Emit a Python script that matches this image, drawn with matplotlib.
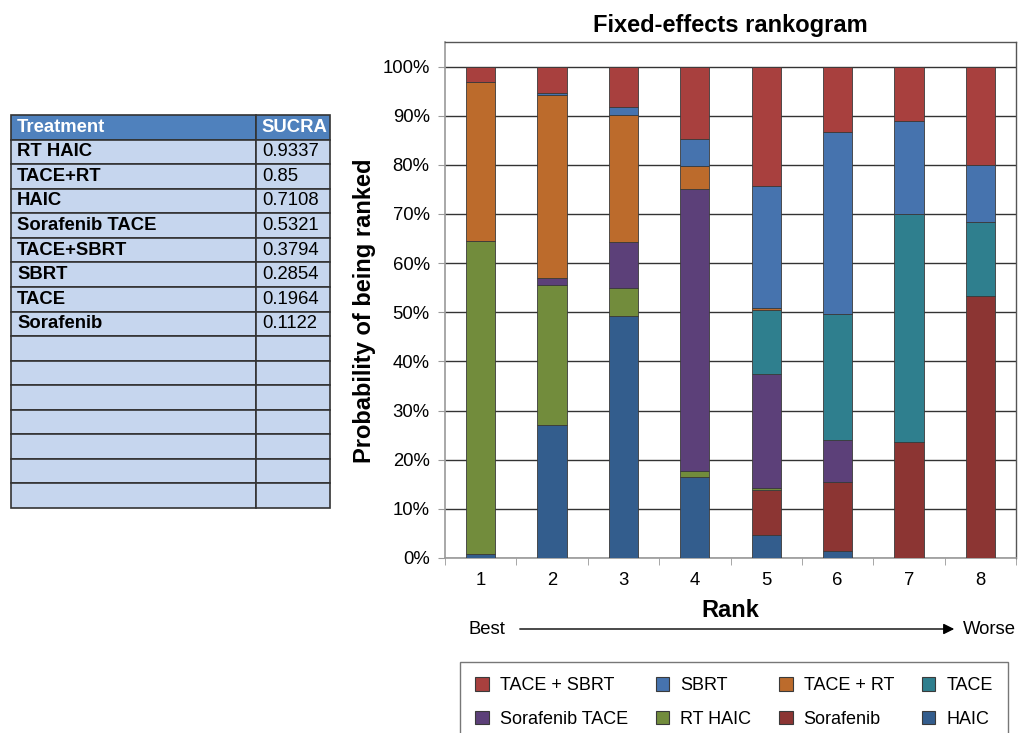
import matplotlib
matplotlib.use('Agg')
import matplotlib.pyplot as plt
from matplotlib.patches import Patch
import numpy as np

plt.rcParams['font.family'] = ['Liberation Sans', 'DejaVu Sans']

# SUCRA table
treatments = ['RT HAIC', 'TACE+RT', 'HAIC', 'Sorafenib TACE', 'TACE+SBRT',
              'SBRT', 'TACE', 'Sorafenib']
sucra = ['0.9337', '0.85', '0.7108', '0.5321', '0.3794', '0.2854',
         '0.1964', '0.1122']
n_empty = 7

# rank probabilities (%) for ranks 1..8, stacked bottom to top
ranks = [1, 2, 3, 4, 5, 6, 7, 8]
haic = [0.9, 27.0, 49.2, 16.5, 4.7, 1.5, 0, 0]
sorafenib = [0, 0, 0, 0, 9.1, 13.9, 23.6, 53.3]
rt_haic = [63.7, 28.5, 5.7, 1.2, 0.4, 0, 0, 0]
sorafenib_tace = [0, 1.5, 9.5, 57.3, 23.2, 8.6, 0, 0]
tace = [0, 0, 0, 0, 13.0, 25.7, 46.3, 15.1]
tace_rt = [32.3, 37.2, 25.8, 4.7, 0.5, 0, 0, 0]
sbrt = [0, 0.5, 1.5, 5.6, 24.7, 37.0, 19.1, 11.5]
tace_sbrt = [3.1, 5.3, 8.3, 14.7, 24.4, 13.3, 11.0, 20.1]

series = [
    ('HAIC', haic, '#335d8d'),
    ('Sorafenib', sorafenib, '#8c3533'),
    ('RT HAIC', rt_haic, '#728c3c'),
    ('Sorafenib TACE', sorafenib_tace, '#5c4079'),
    ('TACE', tace, '#2f7f8e'),
    ('TACE + RT', tace_rt, '#bc6b2c'),
    ('SBRT', sbrt, '#4673ae'),
    ('TACE + SBRT', tace_sbrt, '#a8403e'),
]

fig = plt.figure(figsize=(10.18, 7.33), dpi=100)

# rankogram
ax = fig.add_axes([445 / 1018, 1 - 558 / 733, 571 / 1018, 516 / 733])
bottom = np.zeros(len(ranks))
for name, vals, col in series:
    ax.bar(ranks, vals, width=0.41, bottom=bottom, color=col,
           edgecolor='#3a3a3a', linewidth=0.6, zorder=3, label=name)
    bottom += np.array(vals)

ax.set_xlim(0.5, 8.5)
ax.set_ylim(0, 105)
ax.set_yticks(np.arange(0, 101, 10))
ax.set_yticklabels([f'{v}%' for v in range(0, 101, 10)], fontsize=13.3)
ax.set_xticks(ranks)
ax.set_xticklabels([str(r) for r in ranks], fontsize=13.3)
ax.set_xticks(np.arange(0.5, 9, 1), minor=True)
ax.tick_params(axis='x', which='major', length=0, pad=10)
ax.tick_params(axis='x', which='minor', length=5, color='#999999')
ax.tick_params(axis='y', length=5, color='#999999', pad=6)
ax.grid(axis='y', color='#333333', linewidth=1.0, zorder=0)
ax.set_axisbelow(True)
for s in ['left', 'bottom']:
    ax.spines[s].set_color('#999999')
    ax.spines[s].set_linewidth(1.2)
for s in ['top', 'right']:
    ax.spines[s].set_color('#555555')
    ax.spines[s].set_linewidth(1.0)

ax.set_title('Fixed-effects rankogram', fontsize=17, fontweight='bold', pad=7)
ax.set_ylabel('Probability of being ranked', fontsize=17, fontweight='bold')
ax.yaxis.set_label_coords(-0.121, 0.48)
ax.set_xlabel('Rank', fontsize=17, fontweight='bold', labelpad=7)

# Best -> Worse arrow
yb = 1 - 629 / 733
fig.text(468 / 1018, yb, 'Best', fontsize=13.3, ha='left', va='center')
fig.text(963 / 1018, yb, 'Worse', fontsize=13.3, ha='left', va='center')
ax.annotate('', xy=(957 / 1018, yb), xytext=(517 / 1018, yb),
            xycoords='figure fraction', textcoords='figure fraction',
            arrowprops=dict(arrowstyle='-|>', color='black', lw=1.0,
                            mutation_scale=16))

# legend, row-major order like the original
handles = {name: Patch(facecolor=col, edgecolor='#3a3a3a', linewidth=0.8)
           for name, vals, col in series}
order = ['TACE + SBRT', 'Sorafenib TACE', 'SBRT', 'RT HAIC',
         'TACE + RT', 'Sorafenib', 'TACE', 'HAIC']
leg = fig.legend([handles[n] for n in order], order, ncol=4,
                 loc='upper left', bbox_to_anchor=(460 / 1018, 1 - 662 / 733),
                 fontsize=13, frameon=True, fancybox=False,
                 handlelength=0.75, handleheight=0.75, handletextpad=0.6,
                 columnspacing=1.55, labelspacing=0.9, borderpad=0.85,
                 borderaxespad=0)
leg.get_frame().set_edgecolor('#555555')
leg.get_frame().set_linewidth(1.0)

# SUCRA table
tax = fig.add_axes([11 / 1018, 1 - 508 / 733, 319 / 1018, 393 / 733])
tax.axis('off')
rows = [['Treatment', 'SUCRA']] + [[t, s] for t, s in zip(treatments, sucra)]
rows += [['', ''] for _ in range(n_empty)]
tbl = tax.table(cellText=rows, colWidths=[0.768, 0.232], bbox=[0, 0, 1, 1],
                cellLoc='left')
tbl.auto_set_font_size(False)
tbl.set_fontsize(13.3)
for (r, c), cell in tbl.get_celld().items():
    cell.set_edgecolor('#333333')
    cell.set_linewidth(1.2)
    cell.PAD = 0.025 if c == 0 else 0.08
    if r == 0:
        cell.set_facecolor('#4f81bd')
        cell.get_text().set_color('white')
        cell.get_text().set_fontweight('bold')
    else:
        cell.set_facecolor('#c6d6ee')
        if c == 0:
            cell.get_text().set_fontweight('bold')

fig.savefig('out.png', dpi=100)
